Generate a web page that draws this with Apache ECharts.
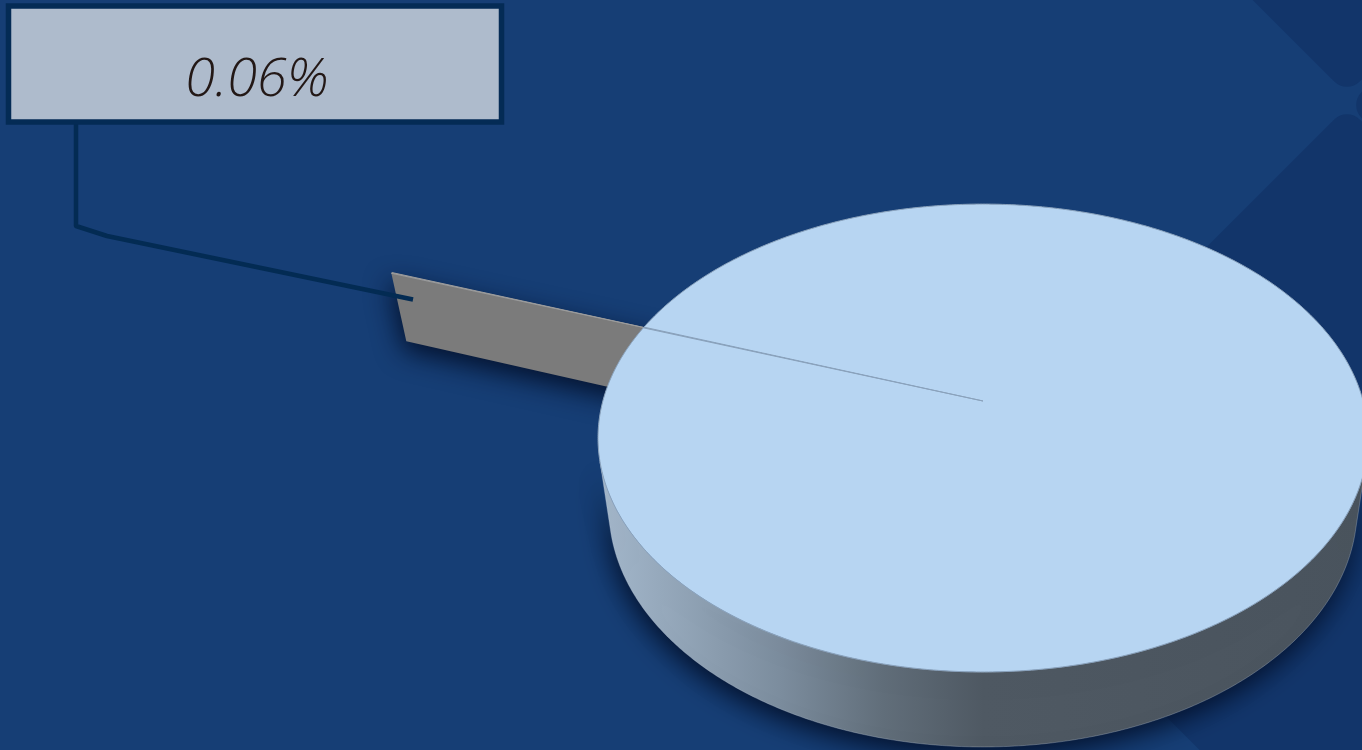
<!DOCTYPE html>
<html>
<head>
<meta charset="utf-8">
<script src="https://cdn.jsdelivr.net/npm/echarts@6/dist/echarts.min.js"></script>
<style>
html,body{margin:0;padding:0;background:#163e75;overflow:hidden;}
#chart{width:1362px;height:750px;}
</style>
</head>
<body>
<div id="chart"></div>
<script>
// ---- data ----
const categories = ['Share A', 'Share B'];
const values = [99.94, 0.06];
const labelShown = [false, true];

// ---- view / style config (not data) ----
const VIEW = {
  baseW: 1362, baseH: 750,
  cx: 983, cy: 401,          // projected pie centre
  focal: 1922, dist: 5.056,  // simple perspective camera
  tiltSin: 0.6, tiltCos: 0.8,
  thickness: 0.24,
  firstAngle: 160.04          // degrees, world angle where the first slice starts
};
const SLICE_STYLE = [
  { top: '#b7d5f2', stroke: '#8aa2bc', explode: 0, side: '#8799ac', shadow: true, gradient: true },
  { top: '#8e8e8e', stroke: '#9c9c9c', explode: 0.815, side: '#7b7b7b', shadow: true, gradient: false }
];
const LABEL = { box: [8.5, 6, 493, 116], textX: 257, textY: 81, elbow: [[107, 236], [76, 226], [76, 122]] };

function renderItem(params, api) {
  const i = params.dataIndex;
  const W = api.getWidth(), H = api.getHeight();
  const k = Math.min(W / VIEW.baseW, H / VIEW.baseH);
  const cx = VIEW.cx * k, cy = VIEW.cy * k, F = VIEW.focal * k;
  const s = VIEW.tiltSin, c = VIEW.tiltCos, D = VIEW.dist, T = VIEW.thickness;
  const proj = (u, v, h) => {
    const Y = v * s + h * c, Z = D + v * c - h * s;
    return [cx + F * u / Z, cy - F * Y / Z];
  };
  const total = values.reduce((a, b) => a + b, 0);
  let before = 0;
  for (let j = 0; j < i; j++) before += values[j];
  const rad = Math.PI / 180;
  const a1 = (VIEW.firstAngle - before / total * 360) * rad;
  const a2 = a1 - api.value(0) / total * 360 * rad;
  const mid = (a1 + a2) / 2;
  const st = SLICE_STYLE[i];
  const ou = st.explode * Math.cos(mid), ov = st.explode * Math.sin(mid);
  const pt = (ang, r, h) => proj(ou + r * Math.cos(ang), ov + r * Math.sin(ang), h);
  const camV = -D * c;
  const baseZ = Math.round(20 - 10 * Math.sin(mid));
  const children = [];

  const n = Math.max(2, Math.ceil(Math.abs(a1 - a2) / (0.5 * rad)));
  const angs = [];
  for (let m = 0; m <= n; m++) angs.push(a1 + (a2 - a1) * m / n);

  const shadowStyle = st.shadow ? { shadowBlur: 26 * k, shadowColor: 'rgba(3,16,42,0.95)', shadowOffsetX: -2 * k, shadowOffsetY: 9 * k } : {};
  const wallFill = st.gradient ? {
    type: 'linear', global: true, x: cx - 385 * k, y: 0, x2: cx + 385 * k, y2: 0,
    colorStops: [
      { offset: 0, color: '#a5b9cd' },
      { offset: 0.24, color: '#7b8c9d' },
      { offset: 0.37, color: '#616e7a' },
      { offset: 0.5, color: '#4f5963' },
      { offset: 1, color: '#4a545e' }
    ]
  } : st.side;

  // outer (curved) wall, only the part that faces the camera
  const vis = ang => {
    const Pu = ou + Math.cos(ang), Pv = ov + Math.sin(ang);
    return (-Pu) * Math.cos(ang) + (camV - Pv) * Math.sin(ang) > 0;
  };
  const runs = [];
  let cur = null;
  angs.forEach(a => {
    if (vis(a)) { if (!cur) { cur = []; runs.push(cur); } cur.push(a); }
    else cur = null;
  });
  runs.forEach(run => {
    if (run.length < 2) return;
    const pts = run.map(a => pt(a, 1, 0)).concat(run.slice().reverse().map(a => pt(a, 1, -T)));
    children.push({ type: 'polygon', z2: baseZ, shape: { points: pts },
      style: Object.assign({ fill: wallFill, stroke: 'rgba(190,205,220,0.5)', lineWidth: 0.6 }, shadowStyle) });
  });

  // radial walls
  const radial = (ang, nu, nv) => {
    const d = (0 - ou) * nu + (camV - ov) * nv;
    if (d <= 0) return;
    const pts = [pt(ang, 0, 0), pt(ang, 1, 0), pt(ang, 1, -T), pt(ang, 0, -T)];
    children.push({ type: 'polygon', z2: baseZ, shape: { points: pts },
      style: Object.assign({ fill: st.side, lineJoin: 'round' }, st.explode > 0 ? shadowStyle : {}) });
  };
  radial(a2, Math.sin(a2), -Math.cos(a2));
  radial(a1, -Math.sin(a1), Math.cos(a1));

  // top face
  const topPts = [pt(0, 0, 0)].concat(angs.map(a => pt(a, 1, 0)));
  children.push({ type: 'polygon', z2: baseZ + 1, shape: { points: topPts },
    style: { fill: st.top, stroke: st.stroke, lineWidth: 1, lineJoin: 'round' } });

  // data label with leader line
  if (labelShown[i]) {
    const pct = (api.value(0) / total * 100).toFixed(2) + '%';
    const end = pt(mid, 0.945, -0.08);
    const pts = [end].concat(LABEL.elbow.map(p => [p[0] * k, p[1] * k]));
    children.push({ type: 'polyline', z2: 100, shape: { points: pts },
      style: { stroke: '#032b53', lineWidth: 4.5 * k, fill: 'none', lineJoin: 'round' } });
    children.push({ type: 'rect', z2: 101,
      shape: { x: LABEL.box[0] * k, y: LABEL.box[1] * k, width: LABEL.box[2] * k, height: LABEL.box[3] * k },
      style: { fill: '#aebbcc', stroke: '#042b55', lineWidth: 5.5 * k } });
    children.push({ type: 'text', z2: 102,
      style: { text: pct, x: LABEL.textX * k, y: LABEL.textY * k, align: 'center', verticalAlign: 'middle',
        fontSize: 54 * k, fontStyle: 'italic', fontWeight: 300, fontFamily: '"Open Sans", "Noto Sans", sans-serif', fill: '#231816' } });
  }
  return { type: 'group', children };
}

const chart = echarts.init(document.getElementById('chart'), null, { renderer: 'canvas' });
const diamond = (x, y, L) => ({
  type: 'rect', x, y, rotation: Math.PI / 4, z: 0,
  shape: { x: -L / 2, y: -L / 2, width: L, height: L, r: 18 },
  style: { fill: '#12356a' }
});
chart.setOption({
  backgroundColor: '#163e75',
  animation: false,
  graphic: [
    diamond(1347, -132, 320),
    diamond(1575, 105, 320),
    diamond(1347, 502, 559)
  ],
  series: [{
    type: 'custom',
    coordinateSystem: 'none',
    silent: true,
    z: 2,
    renderItem,
    data: values.map((v, i) => ({ name: categories[i], value: v }))
  }]
});
</script>
</body>
</html>
